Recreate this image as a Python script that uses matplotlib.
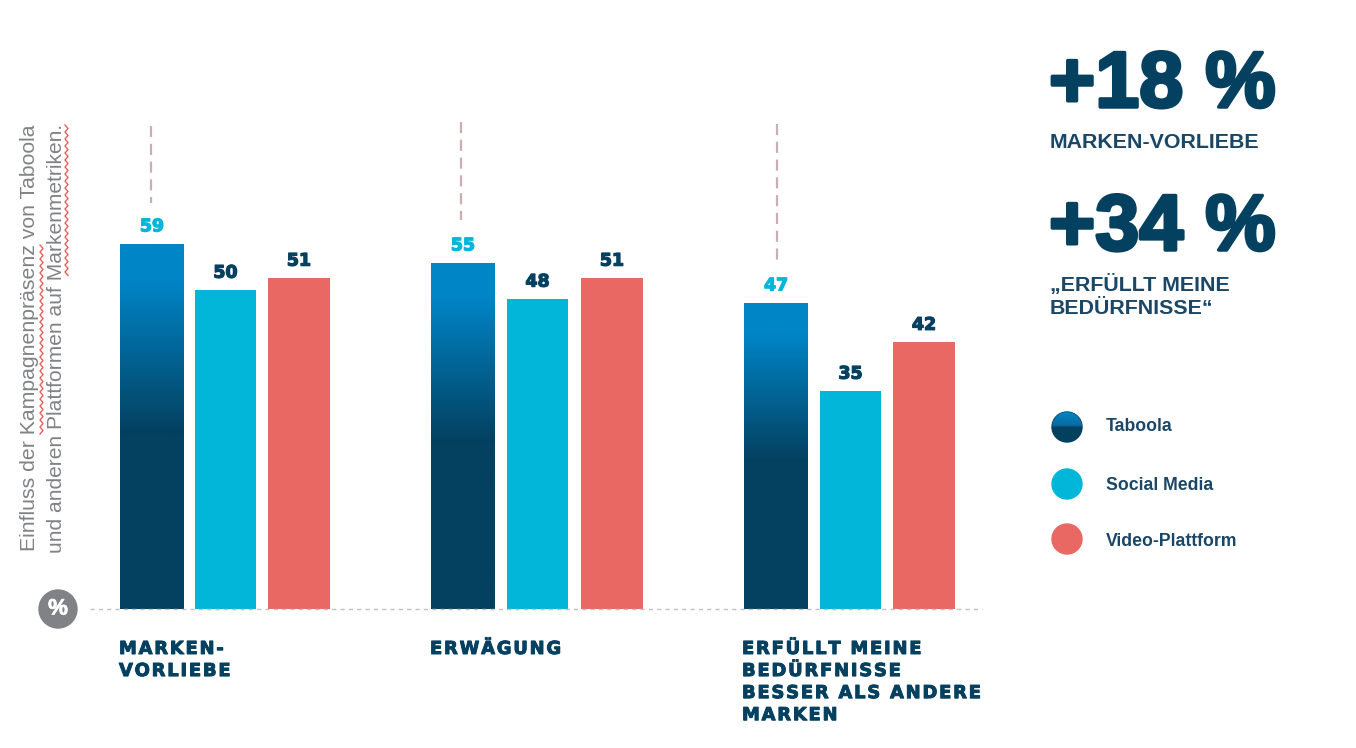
import numpy as np
import matplotlib
matplotlib.use("Agg")
import matplotlib.pyplot as plt
import matplotlib.patheffects as pe
from matplotlib.patches import Circle
from matplotlib.colors import LinearSegmentedColormap

# values printed on the chart
categories = ["MARKEN-\nVORLIEBE", "ERWÄGUNG", "ERFÜLLT MEINE\nBEDÜRFNISSE\nBESSER ALS ANDERE\nMARKEN"]
taboola = [59, 55, 47]
social = [50, 48, 35]
video = [51, 51, 42]
# bar heights as drawn, the source picture is not quite to scale
taboola_h = [57.5, 54.5, 48.2]
social_h = [50.2, 48.8, 34.3]
video_h = [52.1, 52.1, 42.0]
legend_names = ["Taboola", "Social Media", "Video-Plattform"]

NAVY = "#04405F"
BLUE = "#0085C7"
CYAN = "#02B6DA"
CORAL = "#E96863"
GREY = "#808285"
DASH = "#C9AEB4"
SQUIG = "#E8605C"
W, H = 1356, 748
BASE = 609
PX = 6.35

grad = LinearSegmentedColormap.from_list("tab", [(0, BLUE), (0.1, BLUE), (0.52, NAVY), (1, NAVY)])
gradv = np.linspace(0, 1, 256).reshape(-1, 1)

plt.rcParams["font.family"] = ["Liberation Sans", "DejaVu Sans"]
fig = plt.figure(figsize=(W / 100, H / 100), dpi=100)

# bars, x in pixels, y in chart units
ax = fig.add_axes([0, 0, 1, 1])
ax.set_xlim(0, W)
ax.set_ylim((BASE - H) / PX, BASE / PX)
ax.axis("off")

# everything else placed in pixels
ov = fig.add_axes([0, 0, 1, 1])
ov.set_xlim(0, W)
ov.set_ylim(H, 0)
ov.axis("off")
ov.patch.set_alpha(0)

tab_x = [120, 431, 744]
soc_x = [195, 507, 820]
vid_x = [268, 581, 893]
dash_x = [151, 461, 777]
dash_top = [126, 122, 124]
dash_bot = [203, 220, 260]


def heavy(t, w=0.8):
    t.set_path_effects([pe.withStroke(linewidth=w, foreground=t.get_color())])
    return t


def bar_label(x, w, h, val, color):
    t = ov.text(x + w / 2, BASE - h * PX - 17.5, str(val), ha="center", va="center", color=color,
                fontsize=12.5, fontweight="bold", family="DejaVu Sans")
    heavy(t, 0.9)


def spaced(s):
    # letter spacing of the category labels
    return "\n".join("\u200a".join(line) for line in s.split("\n"))


ov.plot([90, 982], [BASE, BASE], color="#C4BEC2", lw=1.0, ls=(0, (3, 3)), zorder=1)

for i in range(3):
    b = ax.bar(tab_x[i], taboola_h[i], width=64, align="edge", color=NAVY, zorder=2)[0]
    im = ax.imshow(gradv, cmap=grad, aspect="auto", zorder=3,
                   extent=[tab_x[i], tab_x[i] + 64, 0, taboola_h[i]])
    im.set_clip_path(b)
    ax.bar(soc_x[i], social_h[i], width=61, align="edge", color=CYAN, zorder=2)
    ax.bar(vid_x[i], video_h[i], width=62, align="edge", color=CORAL, zorder=2)
    bar_label(tab_x[i], 64, taboola_h[i], taboola[i], CYAN)
    bar_label(soc_x[i], 61, social_h[i], social[i], NAVY)
    bar_label(vid_x[i], 62, video_h[i], video[i], NAVY)
    ov.plot([dash_x[i], dash_x[i]], [dash_top[i], dash_bot[i]], color=DASH, lw=1.6, ls=(0, (5, 3)))
    t = ov.text(tab_x[i] - 1 if i < 2 else 742, 640, spaced(categories[i]), ha="left", va="top", color=NAVY,
                fontsize=12.9, fontweight="bold", family="DejaVu Sans", linespacing=1.29)
    heavy(t, 0.7)

ax.set_xlim(0, W)
ax.set_ylim((BASE - H) / PX, BASE / PX)

# % badge
ov.add_patch(Circle((58, BASE), 19, color=GREY, zorder=5))
heavy(ov.text(58, BASE, "%", ha="center", va="center", color="white", fontsize=16, fontweight="bold", zorder=6), 0.6)

# axis note
ov.text(30, 338, "Einfluss der Kampagnenpräsenz von Taboola", rotation=90, ha="center", va="center",
        color=GREY, fontsize=15.3)
ov.text(57, 338, "und anderen Plattformen auf Markenmetriken.", rotation=90, ha="center", va="center",
        color=GREY, fontsize=15.1)


def squiggle(x, y0, y1):
    ys = np.arange(y0, y1, 3.5)
    xs = x + 3 * (np.arange(len(ys)) % 2)
    ov.plot(xs, ys, color=SQUIG, lw=1.0)


squiggle(40, 245, 436)
squiggle(65, 125, 277)

# call-outs on the right
heavy(ov.text(1049, 107, "+18 %", ha="left", va="baseline", color=NAVY, fontsize=57, fontweight="bold"), 2.5)
heavy(ov.text(1049, 250, "+34 %", ha="left", va="baseline", color=NAVY, fontsize=57, fontweight="bold"), 2.5)
ov.text(1050, 142, "MARKEN-VORLIEBE", ha="left", va="center", color="#1B4767", fontsize=15.4, fontweight="bold")
ov.text(1050, 296, "„ERFÜLLT MEINE\nBEDÜRFNISSE“", ha="left", va="center", color="#1B4767",
        fontsize=15.4, fontweight="bold", linespacing=1.3)

# legend
leg_y = [427, 484, 539]
leg_text_y = [426, 485, 542]
leg_col = [None, CYAN, CORAL]
for y, ty, name, c in zip(leg_y, leg_text_y, legend_names, leg_col):
    if c is None:
        patch = Circle((1067, y), 15, color=NAVY, zorder=2)
        ov.add_patch(patch)
        im = ov.imshow(gradv, cmap=LinearSegmentedColormap.from_list("l", [(0, BLUE), (0.45, "#0A6A9E"), (0.5, NAVY), (1, NAVY)]),
                       aspect="auto", extent=[1052, 1082, y + 15, y - 15], zorder=3)
        im.set_clip_path(patch)
    else:
        ov.add_patch(Circle((1067, y), 15, color=c))
    ov.text(1106, ty, name, ha="left", va="center", color="#1B4767", fontsize=12.7, fontweight="bold")

ov.set_xlim(0, W)
ov.set_ylim(H, 0)

fig.savefig("out.png", dpi=100)
